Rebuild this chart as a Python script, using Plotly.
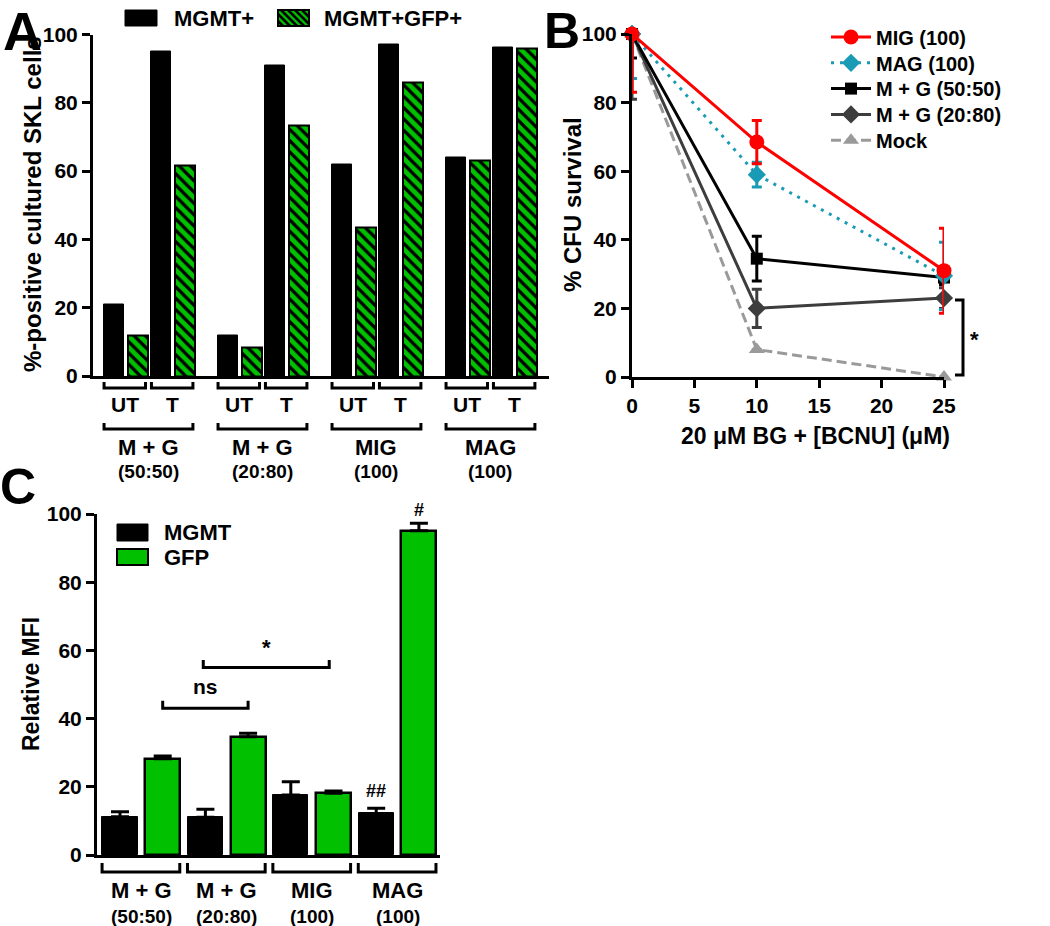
import plotly.graph_objects as go

W, H = 1050, 926
FONT = "Arial, Liberation Sans, sans-serif"
GREEN = "#00c000"
TEAL = "#1a9bb5"
DGRAY = "#3d3d3d"
LGRAY = "#9a9a9a"

# ---- panel A data: % positive cultured SKL cells
groups = ["M + G", "M + G", "MIG", "MAG"]
group_sub = ["(50:50)", "(20:80)", "(100)", "(100)"]
treatments = ["UT", "T"]
a_mgmt = [21, 95, 12, 91, 62, 97, 64, 96.2]
a_mgmt_gfp = [12, 61.5, 8.3, 73.5, 43.5, 86, 63.2, 96]

# ---- panel B data: % CFU survival vs BCNU dose
b_dose = [0, 10, 25]
b_names = ["MIG (100)", "MAG (100)", "M + G (50:50)", "M + G (20:80)", "Mock"]
b_mig = [100, 68.5, 31]
b_mig_err = [17, 6.3, 12.4]
b_mag = [100, 59, 29.5]
b_mag_err = [13, 3.6, 9.8]
b_mg5050 = [100, 34.5, 29]
b_mg5050_err = [7, 6.5, 2]
b_mg2080 = [100, 20, 23]
b_mg2080_err = [19, 5.6, 3]
b_mock = [100, 8, 0]
b_mock_err = [13, 0, 0]

# ---- panel C data: relative MFI
c_mgmt = [11.2, 11.1, 17.6, 12.2]
c_mgmt_err = [1.5, 2.3, 3.9, 1.5]
c_gfp = [28.2, 34.7, 18.1, 95.1]
c_gfp_err = [0.8, 1.0, 0.7, 2.2]


def px(x):
    return x / W


def py(y):
    return 1 - y / H


def txt(text, x, y, size=21, xref="paper", yref="paper", **kw):
    d = dict(text=text, x=x, y=y, xref=xref, yref=yref, showarrow=False,
             xanchor="center", yanchor="middle",
             font=dict(family=FONT, size=size, color="black", weight="bold"))
    d.update(kw)
    return d


def bracket(x0, x1, ytop, ybot, xref, yref="paper"):
    return dict(type="path", xref=xref, yref=yref,
                path=f"M {x0},{ytop} L {x0},{ybot} L {x1},{ybot} L {x1},{ytop}",
                line=dict(color="black", width=3))


axis_style = dict(showline=True, linewidth=3, linecolor="black", ticks="outside",
                  ticklen=8, tickwidth=3, tickcolor="black", showgrid=False,
                  zeroline=False, fixedrange=True, automargin=False,
                  tickfont=dict(family=FONT, size=21, color="black", weight="bold"))

fig = go.Figure()
annotations = []
shapes = []

# ================= panel A
A_UNIT, A_X0, A_GROUP = 23.7, 114, 4.81
a_x_black = [g * A_GROUP + 2 * t for g in range(4) for t in range(2)]
a_x_green = [x + 1 for x in a_x_black]

fig.add_trace(go.Bar(x=a_x_black, y=a_mgmt, width=0.85, name="MGMT+",
                     marker=dict(color="black", line=dict(color="black", width=1)),
                     xaxis="x", yaxis="y", showlegend=False))
fig.add_trace(go.Bar(x=a_x_green, y=a_mgmt_gfp, width=0.85, name="MGMT+GFP+",
                     marker=dict(color=GREEN, line=dict(color="black", width=2),
                                 pattern=dict(shape="\\", fgcolor="black", bgcolor=GREEN,
                                              fillmode="replace", size=8, solidity=0.4)),
                     xaxis="x", yaxis="y", showlegend=False))

for i, xb in enumerate(a_x_black):
    shapes.append(bracket(xb - 0.42, xb + 1.33, py(382), py(388), "x"))
    annotations.append(txt(treatments[i % 2], xb + 0.45, py(405), size=21, xref="x"))
for g in range(4):
    x0 = g * A_GROUP
    shapes.append(bracket(x0 - 0.42, x0 + 3.33, py(423), py(429), "x"))
    annotations.append(txt(groups[g], x0 + 1.45, py(447), size=22, xref="x"))
    annotations.append(txt(group_sub[g], x0 + 1.45, py(471), size=19, xref="x"))


def hatch(x0, y0, x1, y1, step=7):
    segs = []
    c = y0 - x1
    while c < y1 - x0:
        xa, xb = max(x0, y0 - c), min(x1, y1 - c)
        if xb > xa:
            segs.append(f"M {px(xa)},{py(xa + c)} L {px(xb)},{py(xb + c)}")
        c += step
    return " ".join(segs)


# legend A (drawn by hand to get the large key boxes)
shapes.append(dict(type="rect", xref="paper", yref="paper", x0=px(125), x1=px(157),
                   y0=py(26), y1=py(10), fillcolor="black", line=dict(color="black", width=1)))
shapes.append(dict(type="rect", xref="paper", yref="paper", x0=px(278), x1=px(309),
                   y0=py(26), y1=py(10), fillcolor=GREEN, line=dict(width=0)))
shapes.append(dict(type="path", xref="paper", yref="paper", path=hatch(278, 10, 309, 26),
                   line=dict(color="black", width=2.5)))
shapes.append(dict(type="rect", xref="paper", yref="paper", x0=px(278), x1=px(309),
                   y0=py(26), y1=py(10), line=dict(color="black", width=2)))
annotations.append(txt("MGMT+", px(172), py(18), size=22, xanchor="left"))
annotations.append(txt("MGMT+GFP+", px(322), py(18), size=22, xanchor="left"))
annotations.append(txt("%-positive cultured SKL cells", px(33), py(204), size=24, textangle=-90))

# ================= panel B
b_sets = [
    (b_mig, b_mig_err, "red", "circle", 15, "solid"),
    (b_mag, b_mag_err, TEAL, "diamond", 14, "3px,6px"),
    (b_mg5050, b_mg5050_err, "black", "square", 12, "solid"),
    (b_mg2080, b_mg2080_err, DGRAY, "diamond", 14, "solid"),
    (b_mock, b_mock_err, LGRAY, "triangle-up", 14, "10px,5px"),
]
legend_rows = {}
for i, (name, (vals, err, col, sym, size, dash)) in reversed(list(enumerate(zip(b_names, b_sets)))):
    lg = "legend" if i == 0 else f"legend{i + 1}"
    legend_rows[lg] = 37 + 25.8 * i
    fig.add_trace(go.Scatter(
        x=b_dose, y=vals, name=name, mode="lines+markers", cliponaxis=False,
        line=dict(color=col, width=3, dash=dash),
        marker=dict(symbol=sym, size=size, color=col),
        error_y=dict(type="data", symmetric=False, array=[0] + err[1:], arrayminus=err,
                     color=col, thickness=3, width=5),
        xaxis="x2", yaxis="y2", legend=lg))

legends = {lg: dict(x=px(826), y=py(yc), xanchor="left", yanchor="middle",
                    bgcolor="rgba(0,0,0,0)", itemwidth=40,
                    font=dict(family=FONT, size=20, color="black", weight="bold"))
           for lg, yc in legend_rows.items()}

shapes.append(dict(type="path", xref="paper", yref="paper",
                   path=f"M {px(955)},{py(300)} L {px(963)},{py(300)} L {px(963)},{py(375)} L {px(955)},{py(375)}",
                   line=dict(color="black", width=3)))
annotations.append(txt("*", px(974), py(340), size=22))
annotations.append(txt("% CFU survival", px(572), py(205), size=24, textangle=-90))
annotations.append(txt("20 \u03bcM BG + [BCNU] (\u03bcM)", px(815), py(436), size=23))

# ================= panel C
C_UNIT, C_X0 = 42.7, 120
c_x_mgmt = [2 * g for g in range(4)]
c_x_gfp = [2 * g + 1 for g in range(4)]
fig.add_trace(go.Bar(x=c_x_mgmt, y=c_mgmt, width=0.82, name="MGMT",
                     marker=dict(color="black", line=dict(color="black", width=1)),
                     error_y=dict(type="data", symmetric=False, array=c_mgmt_err,
                                  arrayminus=[0] * 4, color="black", thickness=3, width=9),
                     xaxis="x3", yaxis="y3", showlegend=False))
fig.add_trace(go.Bar(x=c_x_gfp, y=c_gfp, width=0.82, name="GFP",
                     marker=dict(color=GREEN, line=dict(color="black", width=2.5)),
                     error_y=dict(type="data", symmetric=False, array=c_gfp_err,
                                  arrayminus=[0] * 4, color="black", thickness=3, width=9),
                     xaxis="x3", yaxis="y3", showlegend=False))

for g in range(4):
    shapes.append(bracket(2 * g - 0.42, 2 * g + 1.4, py(863), py(872), "x3"))
    annotations.append(txt(groups[g], 2 * g + 0.5, py(890), size=22, xref="x3"))
    annotations.append(txt(group_sub[g], 2 * g + 0.5, py(916), size=19, xref="x3"))

# significance marks
shapes.append(bracket(1, 3, 45.2, 43.0, "x3", "y3"))
annotations.append(txt("ns", 2, 45.5, size=21, xref="x3", yref="y3", yanchor="bottom"))
shapes.append(bracket(1.95, 4.9, 57.2, 55.0, "x3", "y3"))
annotations.append(txt("*", 3.43, 56.5, size=22, xref="x3", yref="y3", yanchor="bottom"))
annotations.append(txt("#", c_x_gfp[3], c_gfp[3] + c_gfp_err[3] + 0.5, size=18,
                       xref="x3", yref="y3", yanchor="bottom"))
annotations.append(txt("##", c_x_mgmt[3], c_mgmt[3] + c_mgmt_err[3] + 1.5, size=18,
                       xref="x3", yref="y3", yanchor="bottom"))

# legend C
shapes.append(dict(type="rect", xref="paper", yref="paper", x0=px(117), x1=px(148),
                   y0=py(541), y1=py(524), fillcolor="black", line=dict(color="black", width=1)))
shapes.append(dict(type="rect", xref="paper", yref="paper", x0=px(117), x1=px(148),
                   y0=py(565), y1=py(549), fillcolor=GREEN, line=dict(color="black", width=2)))
annotations.append(txt("MGMT", px(162), py(532), size=22, xanchor="left"))
annotations.append(txt("GFP", px(162), py(557), size=22, xanchor="left"))
annotations.append(txt("Relative MFI", px(31), py(684), size=23, textangle=-90))

# panel letters
annotations.append(txt("A", px(22), py(0), size=54, yanchor="top", borderpad=0))
annotations.append(txt("B", px(562), py(2), size=50, yanchor="top", borderpad=0))
annotations.append(txt("C", px(18), py(487), size=50))

tick100 = dict(range=[0, 100], tickvals=[0, 20, 40, 60, 80, 100])
fig.update_layout(
    width=W, height=H, margin=dict(l=0, r=0, t=0, b=0, autoexpand=False),
    paper_bgcolor="white", plot_bgcolor="white", bargap=0,
    font=dict(family=FONT, color="black"),
    xaxis=dict(domain=[px(93), px(549)], range=[(93 - A_X0) / A_UNIT, (549 - A_X0) / A_UNIT],
               **{**axis_style, "ticks": "", "showticklabels": False}, anchor="y"),
    yaxis=dict(domain=[py(376), py(34.5)], **tick100, **axis_style, anchor="x"),
    xaxis2=dict(domain=[px(632), px(944)], range=[0, 25], tickvals=[0, 5, 10, 15, 20, 25],
                **axis_style, anchor="y2"),
    yaxis2=dict(domain=[py(377), py(34)], **tick100, **axis_style, anchor="x2"),
    xaxis3=dict(domain=[px(97), px(440)], range=[(97 - C_X0) / C_UNIT, (440 - C_X0) / C_UNIT],
                **{**axis_style, "ticks": "", "showticklabels": False}, anchor="y3"),
    yaxis3=dict(domain=[py(855), py(514)], **tick100, **axis_style, anchor="x3"),
    shapes=shapes, annotations=annotations,
    **legends,
)

# drop the browser's default body margin so the figure sits at the page origin
fig.write_html("out.html", config={"displayModeBar": False},
               post_script="document.body.style.margin = '0px';")
